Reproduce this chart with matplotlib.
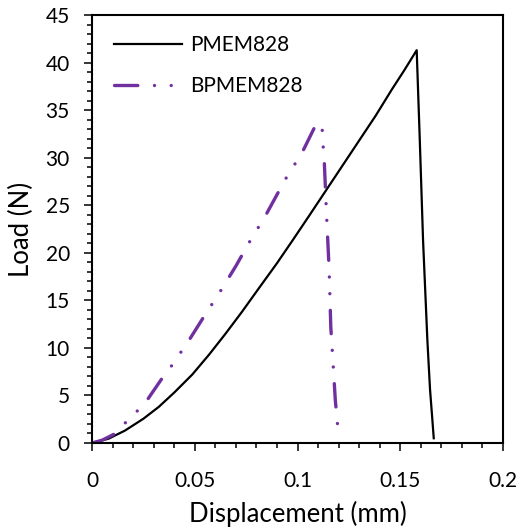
import matplotlib
matplotlib.use("Agg")
import matplotlib.pyplot as plt
from matplotlib.ticker import MultipleLocator, FixedLocator

plt.rcParams['font.family'] = ['Lato', 'DejaVu Sans']

# PMEM828 data
pmem_x = [0, 0.008, 0.016, 0.025, 0.0325, 0.04, 0.0488, 0.057, 0.065, 0.073,
          0.0813, 0.09, 0.0976, 0.106, 0.114, 0.122, 0.130, 0.138, 0.146,
          0.152, 0.158, 0.1595, 0.1611, 0.1632, 0.1645, 0.1655, 0.1663]
pmem_y = [0, 0.45, 1.3, 2.55, 3.8, 5.3, 7.2, 9.3, 11.5, 13.8,
          16.3, 18.9, 21.3, 24.0, 26.6, 29.2, 31.8, 34.4, 37.2,
          39.2, 41.3, 31.9, 21.3, 10.8, 5.6, 2.8, 0.5]

# BPMEM828 data
bp_x = [0, 0.005, 0.0114, 0.0163, 0.022, 0.0268, 0.0341, 0.039, 0.0472, 0.0545,
        0.0623, 0.070, 0.0768, 0.0846, 0.0943, 0.1024, 0.1081, 0.1119, 0.1122,
        0.1130, 0.1141, 0.1154, 0.1162, 0.1171, 0.1184, 0.1198]
bp_y = [0, 0.3, 1.0, 2.14, 3.36, 4.5, 6.8, 8.2, 10.8, 13.3,
        15.9, 18.6, 21.2, 23.97, 27.8, 30.6, 33.1, 33.6, 32.0,
        29.75, 24.2, 18.2, 12.2, 9.1, 4.5, 1.2]

x_ticks = [0, 0.05, 0.1, 0.15, 0.2]
x_tick_labels = ["0", "0.05", "0.1", "0.15", "0.2"]
y_ticks = list(range(0, 46, 5))

fig = plt.figure(figsize=(5.19, 5.31), dpi=100)
ax = fig.add_axes([92/519, 1-443/531, (503-92)/519, (443-15)/531])

ax.plot(pmem_x, pmem_y, color='black', lw=1.6, label='PMEM828', solid_joinstyle='round')
ax.plot(bp_x, bp_y, color='#7030A0', lw=2.4, label='BPMEM828',
        linestyle=(0, (7, 5, 0.01, 5, 0.01, 5)), dash_capstyle='round')

ax.set_xlim(0, 0.2)
ax.set_ylim(0, 45)
ax.xaxis.set_major_locator(FixedLocator(x_ticks))
ax.set_xticklabels(x_tick_labels)
ax.xaxis.set_minor_locator(MultipleLocator(0.01))
ax.set_yticks(y_ticks)
ax.yaxis.set_minor_locator(MultipleLocator(1))

ax.tick_params(which='major', direction='out', length=5.5, width=1.1, labelsize=15, colors='black')
ax.tick_params(axis='x', which='major', pad=15)
ax.tick_params(axis='y', which='major', pad=10.5)
ax.tick_params(which='minor', direction='out', length=3.5, width=1.1)
for s in ax.spines.values():
    s.set_linewidth(1.5)

ax.set_xlabel('Displacement (mm)', fontsize=18.5, labelpad=7)
ax.set_ylabel('Load (N)', fontsize=18.5, labelpad=8)

leg = ax.legend(loc='upper left', bbox_to_anchor=(0.008, 0.996), frameon=False,
                fontsize=15, handlelength=3.27, handletextpad=0.4, labelspacing=1.0)

fig.savefig('out.png', dpi=100)
